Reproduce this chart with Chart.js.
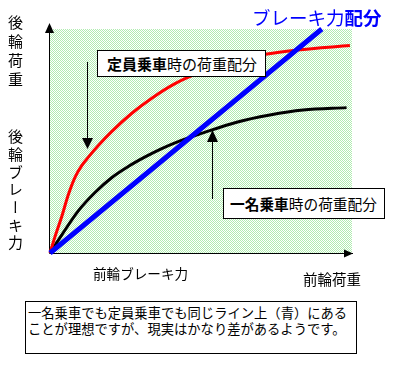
<!DOCTYPE html>
<html>
<head>
<meta charset="utf-8">
<script src="https://cdn.jsdelivr.net/npm/chart.js@4/dist/chart.umd.min.js"></script>
<style>
  html, body { margin: 0; padding: 0; background: #fff; }
  #wrap { position: relative; width: 403px; height: 366px; overflow: hidden; font-family: "Noto Sans CJK JP", sans-serif; color: #000; }
  #c { position: absolute; left: 0; top: 0; }
  .t { position: absolute; white-space: nowrap; }
  .vt { position: absolute; writing-mode: vertical-rl; white-space: nowrap; }
  .box { position: absolute; box-sizing: border-box; border: 1px solid #000; background: #fff; white-space: nowrap; }
  b { font-weight: bold; }
</style>
</head>
<body>
<div id="wrap">
  <canvas id="c" width="403" height="366"></canvas>
  <div class="vt" style="left:8px; top:15px; font-size:15px; line-height:15px; letter-spacing:4px;">後輪荷重</div>
  <div class="vt" style="left:8px; top:129px; font-size:15px; line-height:15px; letter-spacing:2.7px;">後輪ブレーキ力</div>
  <div class="t" style="left:252px; top:7px; font-size:18.5px; line-height:20px; color:#0000ff;">ブレーキ力<b>配分</b></div>
  <div class="box" style="left:97px; top:50px; width:169px; height:27px; font-size:15px; line-height:25px; padding-left:9px;"><b>定員乗車</b>時の荷重配分</div>
  <div class="box" style="left:223px; top:188px; width:162px; height:31px; font-size:14.7px; line-height:29px; padding-left:6px;"><b>一名乗車</b>時の荷重配分</div>
  <div class="t" style="left:93px; top:266px; font-size:13.6px; line-height:14px;">前輪ブレーキ力</div>
  <div class="t" style="left:303px; top:271px; font-size:14.5px; line-height:15px;">前輪荷重</div>
  <div class="box" style="left:25px; top:301px; width:332px; height:53px; font-size:13.3px; line-height:16px; padding-left:2px; padding-top:3px;">一名乗車でも定員乗車でも同じライン上（青）にある<br>ことが理想ですが、現実はかなり差があるようです。</div>
</div>
<script>
// ---- data (relative units, 0..100) ----
const blueX  = [0, 90.0];
const blueY  = [0, 100];
const redX   = [0, 1.66, 3.87, 6.06, 8.28, 10.5, 12.7, 16.0, 20.4, 27.1, 33.7, 41.4, 49.7, 59.6, 71.9, 81.8, 99.3];
const redY   = [0, 7.3, 16.2, 26.0, 33.8, 39.0, 42.8, 48.0, 54.2, 62.4, 69.1, 75.6, 80.6, 84.8, 88.8, 90.6, 92.6];
const blackX = [0, 3.87, 9.37, 14.9, 20.4, 25.9, 31.5, 37.0, 41.4, 50.7, 61.8, 72.8, 83.8, 98.2];
const blackY = [0, 8.0, 18.8, 27.0, 33.6, 38.6, 42.9, 46.6, 49.2, 53.6, 58.4, 61.6, 63.8, 64.9];

const pts = (xs, ys) => xs.map((x, i) => ({ x: x, y: ys[i] }));

// green dithered background
function makePattern(ctx) {
  const pc = document.createElement('canvas');
  pc.width = 2; pc.height = 2;
  const p = pc.getContext('2d');
  p.fillStyle = '#ffffff'; p.fillRect(0, 0, 2, 2);
  p.fillStyle = '#b0ecb0'; p.fillRect(0, 0, 1, 1); p.fillRect(1, 1, 1, 1);
  return ctx.createPattern(pc, 'repeat');
}

const bgPlugin = {
  id: 'bg',
  beforeDatasetsDraw(chart) {
    const { ctx, chartArea: a, scales } = chart;
    ctx.save();
    ctx.fillStyle = makePattern(ctx);
    ctx.fillRect(a.left, a.top, a.right - a.left, a.bottom - a.top);
    // axes with arrowheads
    const x0 = Math.round(scales.x.getPixelForValue(0)) - 0.5;
    const y0 = Math.round(scales.y.getPixelForValue(0)) + 0.5;
    ctx.strokeStyle = '#000'; ctx.lineWidth = 1;
    ctx.beginPath();
    ctx.moveTo(x0, y0); ctx.lineTo(x0, a.top - 2);
    ctx.moveTo(x0, y0); ctx.lineTo(a.right + 1, y0);
    ctx.stroke();
    ctx.fillStyle = '#000';
    ctx.beginPath();
    ctx.moveTo(x0, a.top - 6); ctx.lineTo(x0 - 4.5, a.top + 4); ctx.lineTo(x0 + 4.5, a.top + 4); ctx.closePath(); ctx.fill();
    ctx.beginPath();
    ctx.moveTo(a.right + 1, y0); ctx.lineTo(a.right - 8, y0 - 4); ctx.lineTo(a.right - 8, y0 + 4); ctx.closePath(); ctx.fill();
    ctx.restore();
  },
  afterDatasetsDraw(chart) {
    const ctx = chart.ctx;
    ctx.save();
    ctx.strokeStyle = '#000'; ctx.fillStyle = '#000'; ctx.lineWidth = 1;
    // pointer arrow 1 (to red curve)
    ctx.beginPath(); ctx.moveTo(87.5, 62); ctx.lineTo(87.5, 139); ctx.stroke();
    ctx.beginPath(); ctx.moveTo(82, 138); ctx.lineTo(93, 138); ctx.lineTo(87.5, 149); ctx.closePath(); ctx.fill();
    // pointer arrow 2 (to black curve)
    ctx.beginPath(); ctx.moveTo(212.5, 141); ctx.lineTo(212.5, 199); ctx.stroke();
    ctx.beginPath(); ctx.moveTo(207, 142); ctx.lineTo(218, 142); ctx.lineTo(212.5, 130); ctx.closePath(); ctx.fill();
    ctx.restore();
  }
};

new Chart(document.getElementById('c'), {
  type: 'line',
  data: {
    datasets: [
      { label: 'ブレーキ力配分', data: pts(blueX, blueY), borderColor: '#0000ff', borderWidth: 5, pointRadius: 0, tension: 0, borderCapStyle: 'butt' },
      { label: '定員乗車時の荷重配分', data: pts(redX, redY), borderColor: '#ff0000', borderWidth: 3, pointRadius: 0, cubicInterpolationMode: 'monotone' },
      { label: '一名乗車時の荷重配分', data: pts(blackX, blackY), borderColor: '#000000', borderWidth: 3, pointRadius: 0, cubicInterpolationMode: 'monotone' }
    ]
  },
  options: {
    responsive: false,
    animation: false,
    layout: { padding: { left: 50, top: 29, right: 51, bottom: 113 } },
    scales: {
      x: { type: 'linear', min: 0, max: 100, display: false },
      y: { type: 'linear', min: 0, max: 100, display: false }
    },
    plugins: { legend: { display: false }, tooltip: { enabled: false } },
    elements: { line: { fill: false } },
    clip: false
  },
  plugins: [bgPlugin]
});
</script>
</body>
</html>
